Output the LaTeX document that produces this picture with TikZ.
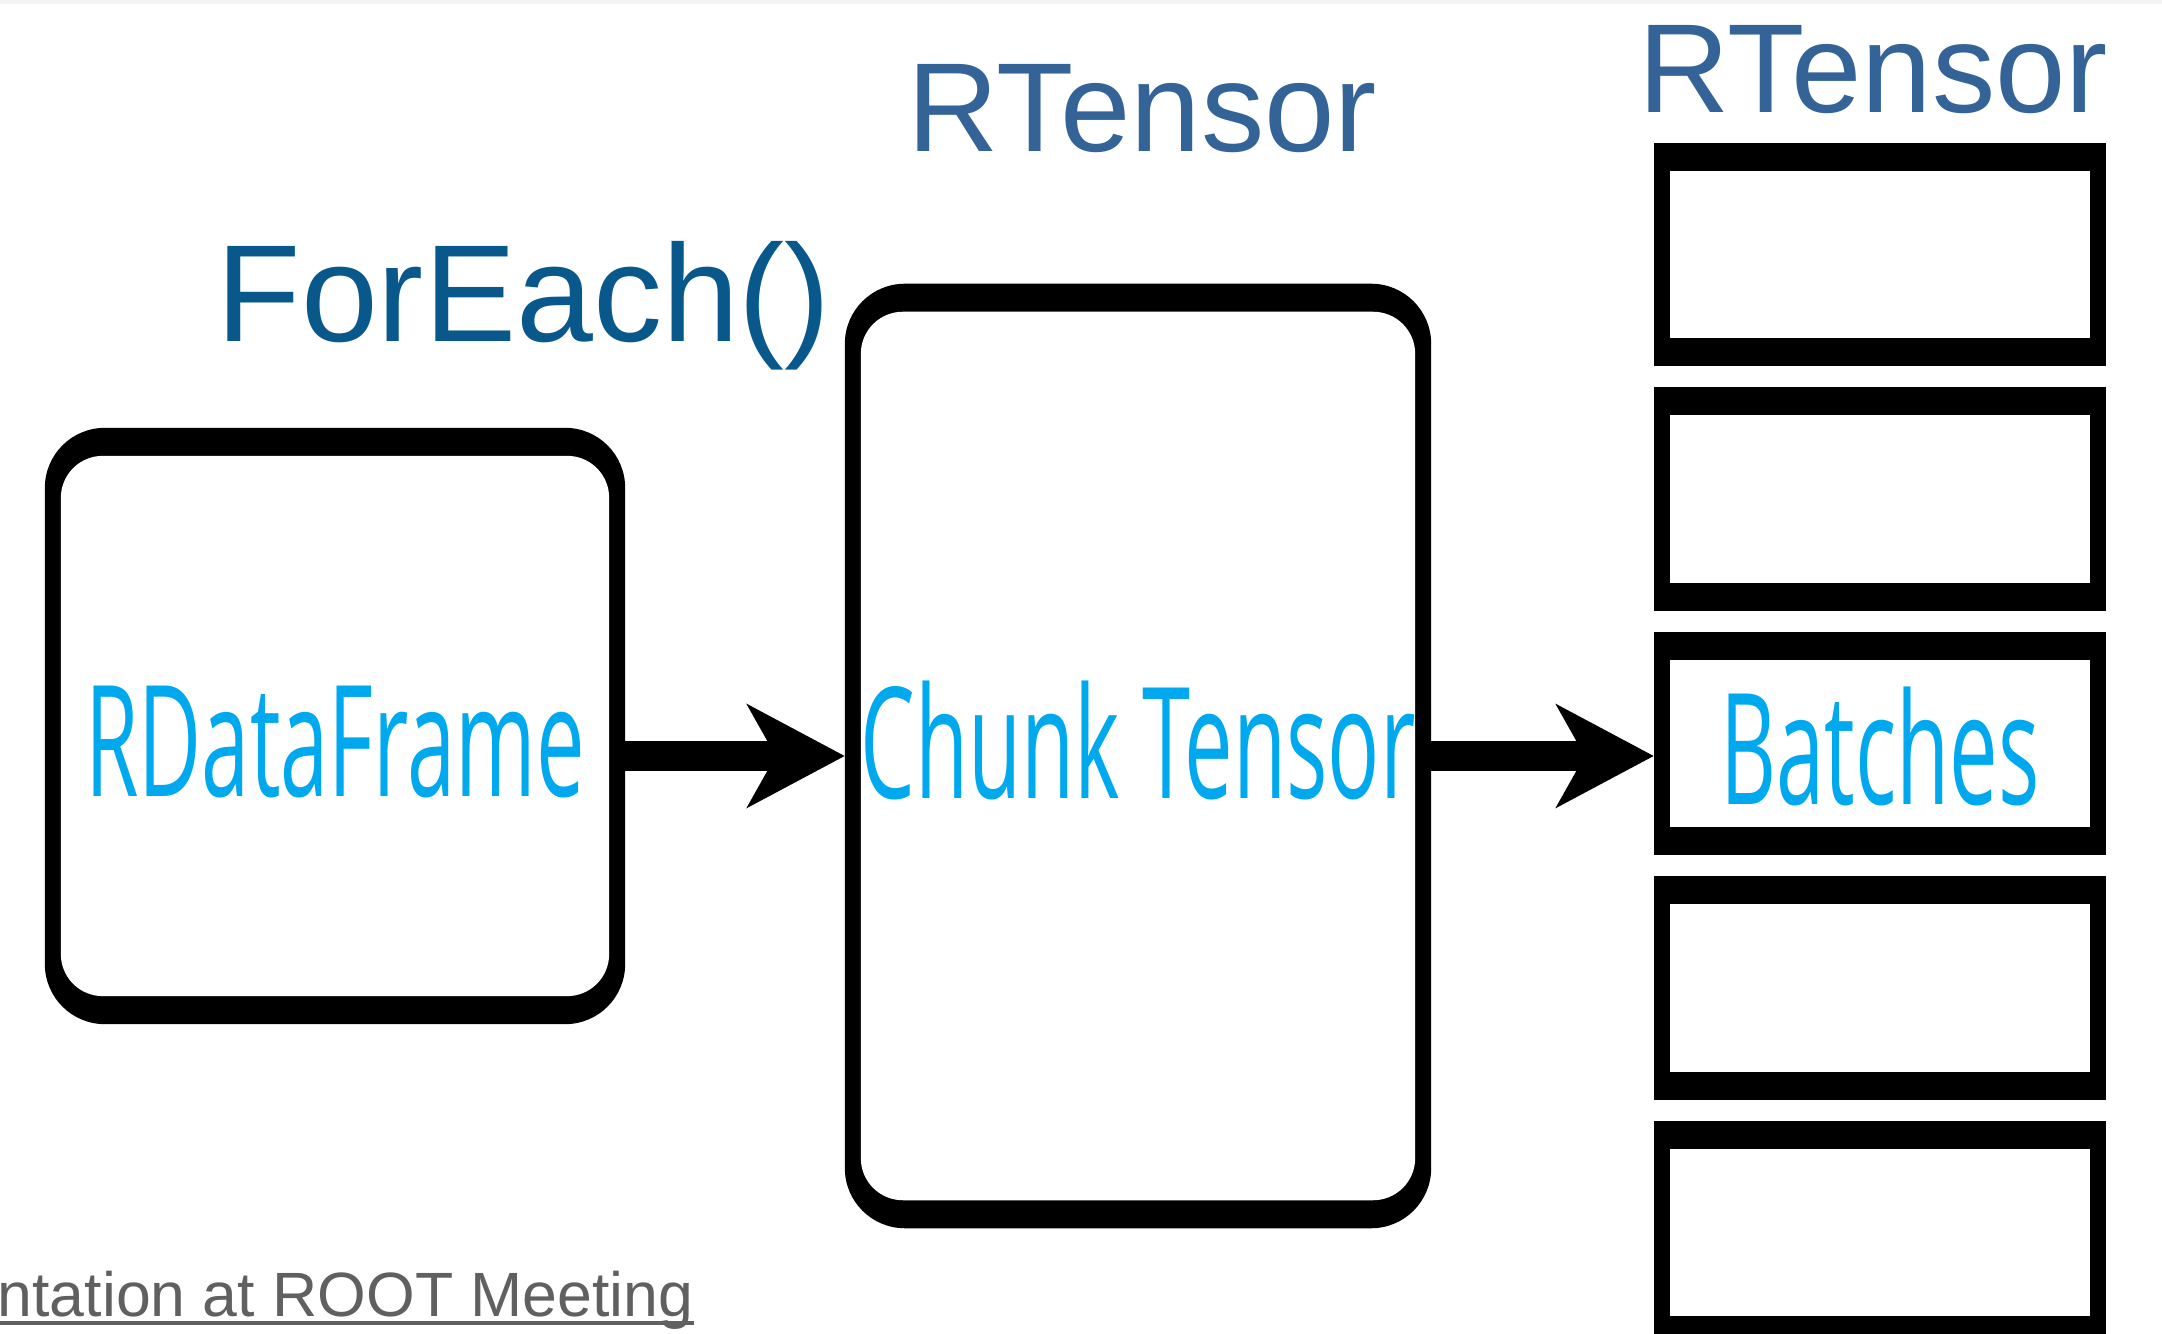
\documentclass[tikz,border=0pt]{standalone}
\usepackage{fontspec}
\setmainfont{Liberation Sans}
\newfontfamily\boxfont[FakeStretch=0.56]{Open Sans}
\usepackage{tikz}
\usetikzlibrary{arrows.meta, positioning}
\usepackage{xcolor}
\definecolor{titleblue}{RGB}{51, 99, 151}
\definecolor{callblue}{RGB}{8, 88, 140}
\definecolor{boxcyan}{RGB}{0, 169, 238}
\definecolor{notegray}{RGB}{96, 96, 96}
\definecolor{stripgray}{RGB}{244, 244, 244}

\tikzset{
    framebox/.style={fill=black, inner sep=0pt, outer sep=0pt, text=boxcyan,
        font=\boxfont\fontsize{44}{50}\selectfont, text depth=0pt,
        path picture={\fill[white, #1]
            ([shift={(0.16cm,0.28cm)}]path picture bounding box.south west) rectangle
            ([shift={(-0.16cm,-0.28cm)}]path picture bounding box.north east);}},
    roundbox/.style={framebox={rounded corners=0.42cm}, rounded corners=0.6cm},
    batchbox/.style={framebox={sharp corners}, minimum width=4.52cm, minimum height=2.23cm, text height=1.22cm},
    title/.style={inner sep=0pt, anchor=base west, text=titleblue, font=\fontsize{36}{40}\selectfont},
    calltitle/.style={inner sep=0pt, anchor=base west, text=callblue, font=\fontsize{39.3}{44}\selectfont},
    flow/.style={line width=0.3cm, -{Stealth[length=0.97cm, width=1.02cm, inset=0.28cm]}}
}

\begin{document}
\begin{tikzpicture}[x=0.01cm, y=-0.01cm]
    \useasboundingbox (0,0) rectangle (2162,1334);
    \fill[stripgray] (0,0) rectangle (2162,4);

    \node[roundbox, minimum width=5.80cm, minimum height=5.96cm, text height=1.4cm] (rdf) at (335,726) {RDataFrame};
    \node[roundbox, minimum width=5.86cm, minimum height=9.44cm, text height=0.84cm] (chunk) at (1138,756) {Chunk Tensor};
    \foreach \i/\txt in {1/,2/,3/Batches,4/,5/}
        \node[batchbox] (b\i) at (1880,{254.5+244.5*(\i-1)}) {\txt};

    \node[calltitle] (foreach) at (216,342) {ForEach()};
    \node[title] (rtchunk) at (907,152) {RTensor};
    \node[title] (rtbatch) at (1638,113) {RTensor};

    \draw[flow] (rdf.east |- chunk.west) -- (chunk.west);
    \draw[flow] (chunk.east) -- (b3.west |- chunk.east);

    \node[inner sep=0pt, anchor=base west, text=notegray, font=\fontsize{17.8}{20}\selectfont] (src) at (-3,1317) {ntation at ROOT Meeting};
    \draw[notegray, line width=0.03cm] ([yshift=-0.06cm]src.base west) -- ([yshift=-0.06cm]src.base east);
\end{tikzpicture}
\end{document}
